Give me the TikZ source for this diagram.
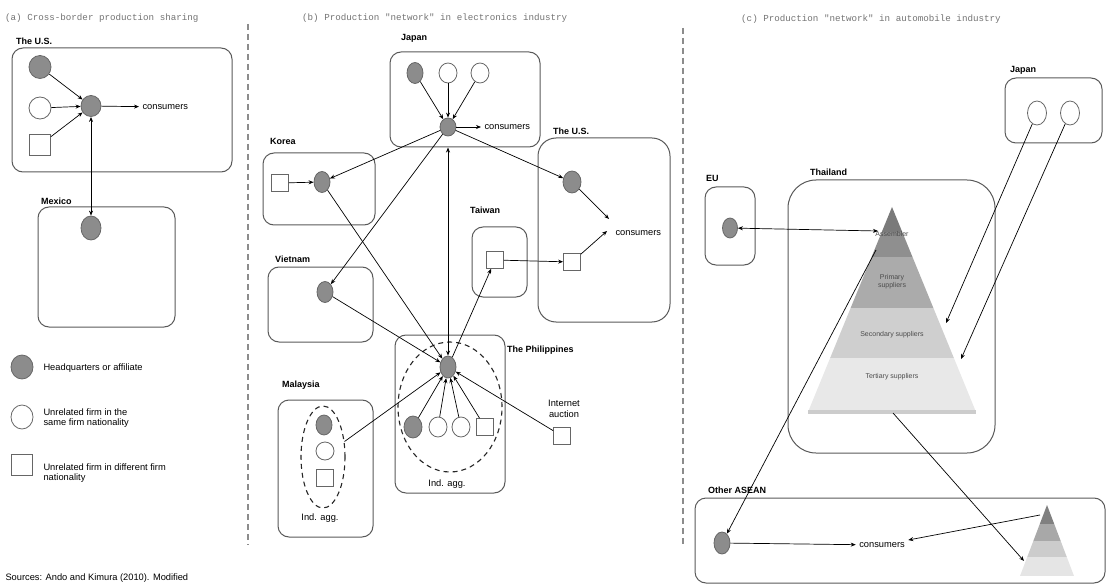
\documentclass[tikz,border=0pt]{standalone}
\usepackage{fontspec}
\setmainfont{Liberation Sans}
\setmonofont{Liberation Mono}
\usetikzlibrary{arrows.meta,calc,positioning,shapes.geometric}

\begin{document}
\begin{tikzpicture}[x=1pt,y=-1pt,>={Stealth[length=5pt,width=4pt]},
  font=\fontsize{9.3}{10.8}\selectfont,
  region/.style={draw=black!65,line width=1pt,rounded corners=11pt},
  hq/.style={ellipse,draw=black!60,fill=black!45,line width=0.8pt,inner sep=0pt,minimum width=16pt,minimum height=21pt},
  firm/.style={ellipse,draw=black!60,fill=white,line width=0.8pt,inner sep=0pt,minimum width=18pt,minimum height=20pt},
  other/.style={rectangle,draw=black!60,fill=white,line width=0.8pt,inner sep=0pt,minimum size=17pt},
  cname/.style={anchor=west,inner sep=1pt,font=\fontsize{9}{10}\selectfont\bfseries},
  ptitle/.style={anchor=west,inner sep=0pt,text=black!55,font=\ttfamily\fontsize{9.2}{10}\selectfont},
  tier/.style={align=center,text=black!70,font=\fontsize{7}{8}\selectfont},
  link/.style={->,line width=0.7pt},
  agg/.style={ellipse,draw=black!85,line width=1.1pt,dash pattern=on 5pt off 4pt,inner sep=0pt},
  divider/.style={draw=black!45,line width=1.2pt,dash pattern=on 6pt off 4pt}]
\useasboundingbox (0,0) rectangle (1107,585);

\node[ptitle] (titleA) at (5,18) {(a) Cross-border production sharing};
\node[ptitle] (titleB) at (302,18) {(b) Production "network" in electronics industry};
\node[ptitle] (titleC) at (741,19) {(c) Production "network" in automobile industry};
\draw[divider] (248,24) -- (248,545);
\draw[divider] (683,28) -- (683,545);

\node[region,minimum width=220pt,minimum height=124pt] (usA) at (122,110) {};
\node[cname] (usAName) at (15,41) {The U.S.};
\node[hq,minimum width=22pt,minimum height=23pt] (usAHQ) at (40,67) {};
\node[firm,minimum width=22pt,minimum height=22pt] (usAFirm) at (40,108) {};
\node[other,minimum size=21pt] (usASq) at (40,145) {};
\node[hq,minimum width=20pt,minimum height=21pt] (usAHub) at (91,106) {};
\node[anchor=west] (usACons) at (139,107) {consumers};
\draw[link] (usAHQ) -- (usAHub);
\draw[link] (usAFirm) -- (usAHub);
\draw[link] (usASq) -- (usAHub);
\draw[link] (usAHub) -- (usACons);
\node[region,minimum width=137pt,minimum height=120pt] (mx) at (106.5,267) {};
\node[cname] (mxName) at (40,201) {Mexico};
\node[hq,minimum width=20pt,minimum height=24pt] (mxHQ) at (91,228) {};
\draw[link,<->] (usAHub) -- (mxHQ);

\node[hq,minimum width=22pt,minimum height=24pt] (keyHQ) at (22,367) {};
\node[anchor=west] (keyHQText) at (40,368) {Headquarters or affiliate};
\node[firm,minimum width=22pt,minimum height=24pt] (keyFirm) at (22,417) {};
\node[anchor=west,align=left] (keyFirmText) at (40,418) {Unrelated firm in the\\same firm nationality};
\node[other,minimum size=21pt] (keySq) at (22,465) {};
\node[anchor=west,align=left] (keySqText) at (40,473) {Unrelated firm in different firm\\nationality};
\node[anchor=west] (source) at (2,578) {Sources: Ando and Kimura (2010). Modified};

\node[region,minimum width=150pt,minimum height=95pt] (jpB) at (465,99.5) {};
\node[cname] (jpBName) at (400,38) {Japan};
\node[hq] (jpHQ) at (415,73) {};
\node[firm] (jpF1) at (448,73) {};
\node[firm] (jpF2) at (480,73) {};
\node[hq,minimum height=18pt] (jpHub) at (448,127) {};
\node[anchor=west] (jpCons) at (481,127) {consumers};
\draw[link] (jpHQ) -- (jpHub);
\draw[link] (jpF1) -- (jpHub);
\draw[link] (jpF2) -- (jpHub);
\draw[link] (jpHub) -- (jpCons);

\node[region,minimum width=112pt,minimum height=72pt] (kr) at (319,189) {};
\node[cname] (krName) at (269,141) {Korea};
\node[other] (krSq) at (280,183) {};
\node[hq] (krHQ) at (322,182) {};
\draw[link] (krSq) -- (krHQ);

\node[region,minimum width=105pt,minimum height=75pt] (vn) at (320.5,304.5) {};
\node[cname] (vnName) at (274,259) {Vietnam};
\node[hq] (vnHQ) at (325,292) {};

\node[region,minimum width=55pt,minimum height=70pt] (tw) at (499.5,262) {};
\node[cname] (twName) at (469,210) {Taiwan};
\node[other] (twSq) at (495,260) {};

\node[region,minimum width=132pt,minimum height=184pt,rounded corners=18pt] (usB) at (604,230) {};
\node[cname] (usBName) at (552,131) {The U.S.};
\node[hq,minimum width=18pt,minimum height=22pt] (usBHQ) at (572,182) {};
\node[other] (usBSq) at (572,262) {};
\node[anchor=west] (usBCons) at (612,233) {consumers};
\coordinate (usBIn1) at (609,219);
\coordinate (usBIn2) at (607,231);
\draw[link] (usBHQ) -- (usBIn1);
\draw[link] (usBSq) -- (usBIn2);

\node[region,minimum width=110pt,minimum height=158pt] (ph) at (450,414) {};
\node[cname] (phName) at (506,350) {The Philippines};
\node[agg,minimum width=104pt,minimum height=130pt] (phAgg) at (450,407) {};
\node[hq,minimum height=22pt] (phHQ) at (448,367) {};
\node[hq,minimum width=18pt,minimum height=22pt] (phA) at (413,427) {};
\node[firm] (phB) at (438,427) {};
\node[firm] (phC) at (461,427) {};
\node[other] (phD) at (485,427) {};
\node (phLabel) at (447,484) {Ind. agg.};
\foreach \f in {phA,phB,phC,phD}
  \draw[link] (\f) -- (phHQ);

\node[region,minimum width=95pt,minimum height=137pt] (my) at (325.5,468.5) {};
\node[cname] (myName) at (281,385) {Malaysia};
\node[agg,minimum width=44pt,minimum height=102pt] (myAgg) at (323,457) {};
\node[hq,minimum height=20pt] (myHQ) at (324,425) {};
\node[firm,minimum height=18pt] (myFirm) at (325,451) {};
\node[other] (mySq) at (325,478) {};
\node (myLabel) at (320,518) {Ind. agg.};

\node[other] (netSq) at (562,436) {};
\node[align=center] (netLabel) at (564,409) {Internet\\auction};

\draw[link] (jpHub) -- (krHQ);
\draw[link] (jpHub) -- (vnHQ);
\draw[link] (jpHub) -- (usBHQ);
\draw[link] (krHQ) -- (phHQ);
\draw[link] (vnHQ) -- (phHQ);
\draw[link,<->] (phHQ) -- (jpHub |- jpB.south);
\draw[link] (phHQ) -- (twSq);
\draw[link] (twSq) -- (usBSq);
\draw[link] (myAgg) -- (phHQ);
\draw[link] (netSq) -- (phHQ);

\node[region,minimum width=97pt,minimum height=65pt] (jpC) at (1053.5,110.5) {};
\node[cname] (jpCName) at (1009,70) {Japan};
\node[firm,minimum width=19pt,minimum height=24pt] (jpC1) at (1037,113) {};
\node[firm,minimum width=19pt,minimum height=24pt] (jpC2) at (1070,113) {};

\node[region,minimum width=50pt,minimum height=78pt] (eu) at (730,226) {};
\node[cname] (euName) at (705,178) {EU};
\node[hq,minimum width=15pt,minimum height=20pt] (euHQ) at (730,228) {};

\node[region,minimum width=207pt,minimum height=273pt,rounded corners=28pt] (th) at (891.5,316.5) {};
\node[cname] (thName) at (809,172) {Thailand};
\begin{scope}
  \clip (892,207) -- (976,412) -- (808,412) -- cycle;
  \fill[black!52] (800,200) rectangle (990,232);
  \fill[black!44] (800,232) rectangle (990,257);
  \fill[black!33] (800,257) rectangle (990,308);
  \fill[black!19] (800,308) rectangle (990,358);
  \fill[black!9] (800,358) rectangle (990,412);
\end{scope}
\fill[black!20] (808,410) rectangle (976,414);
\node[tier] (asmTier) at (892,234) {Assembler};
\node[tier] (priTier) at (892,282) {Primary\\suppliers};
\node[tier] (secTier) at (892,335) {Secondary suppliers};
\node[tier] (terTier) at (892,377) {Tertiary suppliers};

\node[region,minimum width=410pt,minimum height=85pt] (oa) at (900,540.5) {};
\node[cname] (oaName) at (707,490) {Other ASEAN};
\node[hq,minimum height=22pt] (oaHQ) at (722,543) {};
\node (oaCons) at (882,545) {consumers};
\begin{scope}
  \clip (1047,505) -- (1074,576) -- (1020,576) -- cycle;
  \fill[black!50] (1010,500) rectangle (1080,524);
  \fill[black!34] (1010,524) rectangle (1080,541);
  \fill[black!20] (1010,541) rectangle (1080,557);
  \fill[black!10] (1010,557) rectangle (1080,576);
\end{scope}

\coordinate (asmIn) at (878,231);
\coordinate (asmOut) at (876,250);
\coordinate (secIn) at (946,323);
\coordinate (terIn) at (961,359);
\coordinate (baseOut) at (893,413);
\coordinate (miniIn) at (1024,561);
\coordinate (miniTop) at (1040,515);
\draw[link,<->] (euHQ) -- (asmIn);
\draw[link] (jpC1) -- (secIn);
\draw[link] (jpC2) -- (terIn);
\draw[link] (asmOut) -- (oaHQ);
\draw[link] (baseOut) -- (miniIn);
\draw[link] (oaHQ) -- (oaCons);
\draw[link] (miniTop) -- (oaCons);
\end{tikzpicture}
\end{document}
